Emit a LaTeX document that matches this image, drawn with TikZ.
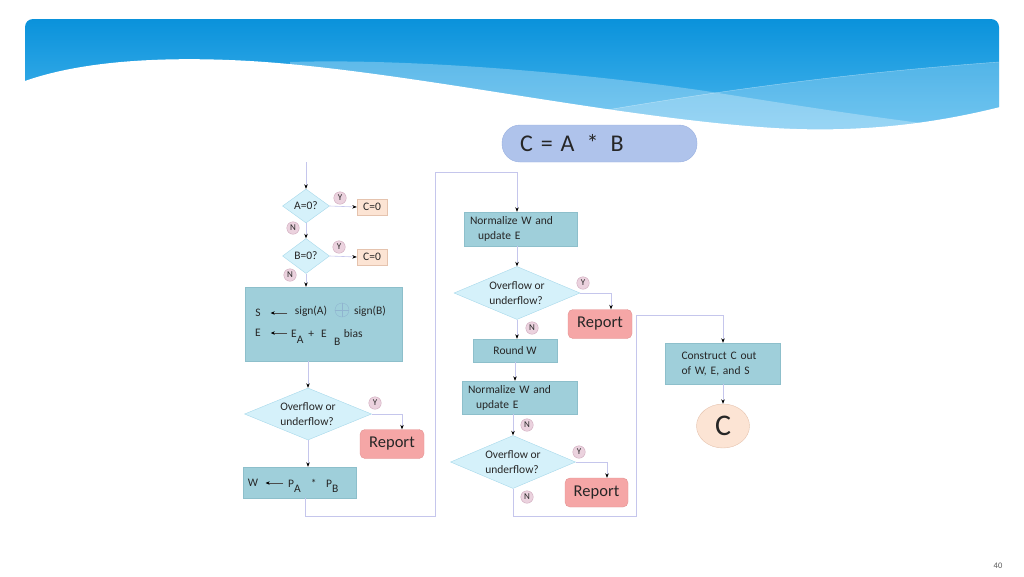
\documentclass[tikz,border=0pt]{standalone}
\usepackage{fontspec}
\setmainfont{Carlito}
\usepackage{xcolor}
\usepackage{tikz}
\usetikzlibrary{shapes.geometric,arrows.meta,positioning,calc}

\definecolor{txt}{HTML}{262626}
\definecolor{boxfill}{HTML}{9FCFDA}
\definecolor{boxline}{HTML}{8DBFCB}
\definecolor{decfill}{HTML}{D5F1FA}
\definecolor{decline}{HTML}{A6D8EA}
\definecolor{zerofill}{HTML}{FCE4D4}
\definecolor{zeroline}{HTML}{E5C3AE}
\definecolor{repfill}{HTML}{F5A6A6}
\definecolor{repline}{HTML}{E39292}
\definecolor{tagfill}{HTML}{EBD2DE}
\definecolor{tagline}{HTML}{CFA9BC}
\definecolor{linec}{HTML}{C5C6EC}
\definecolor{xorline}{HTML}{8FB4CF}
\definecolor{titlefill}{HTML}{AFC3EB}
\definecolor{titleline}{HTML}{98B0E0}
\definecolor{bannertop}{HTML}{0A92DB}
\definecolor{bannerbot}{HTML}{4DB8EE}

\begin{document}
\begin{tikzpicture}[
  x=1pt, y=-1pt,
  every node/.style={font=\fontsize{11.5}{15}\selectfont, text=txt},
  decision/.style={diamond, aspect=2.4, draw=decline, fill=decfill, inner sep=0pt, align=left},
  procbox/.style={rectangle, draw=boxline, fill=boxfill, inner sep=0pt},
  zerobox/.style={rectangle, draw=zeroline, fill=zerofill, minimum width=30pt, minimum height=16pt, inner sep=0pt},
  report/.style={rectangle, rounded corners=5pt, draw=repline, fill=repfill, minimum height=29pt, inner sep=0pt, font=\fontsize{16.5}{18}\selectfont},
  tag/.style={circle, draw=tagline, fill=tagfill, minimum size=12.5pt, inner sep=0pt, font=\fontsize{9}{9}\selectfont},
  arrow/.style={draw=linec, line width=0.6pt, -{Stealth[length=4.5pt, width=3.5pt, black]}},
  assign/.style={draw=black!70, line width=0.5pt, -{Stealth[length=4pt, width=3.5pt, black]}}
]
\useasboundingbox (0,0) rectangle (1024,576);

% banner
\shade[top color=bannertop, bottom color=bannerbot, rounded corners=8pt] (25,19) rectangle (999,136);
\fill[white, opacity=0.28] (290,62) .. controls (420,58) and (600,75) .. (712,92) .. controls (800,106) and (900,122) .. (999,132) -- (999,140) -- (290,140) -- cycle;
\fill[white, opacity=0.22] (560,118) .. controls (680,97) and (820,75) .. (999,62) -- (999,140) -- (560,140) -- cycle;
\draw[white, opacity=0.45, line width=0.4pt] (560,118) .. controls (680,97) and (820,75) .. (999,62);
\fill[white] (20,81) -- (25,81) .. controls (90,58) and (180,57) .. (250,61) .. controls (400,70) and (600,115) .. (760,127) .. controls (850,134) and (930,125) .. (1004,106) -- (1004,145) -- (20,145) -- cycle;

\node[rectangle, rounded corners=18pt, draw=titleline, fill=titlefill, minimum height=37pt, text width=159pt, inner xsep=18pt, inner ysep=0pt, align=left, font=\fontsize{24}{24}\selectfont] (title) at (599.5,143.5) {C = A \,*\, B};

% left column
\coordinate (entry) at (306,162);
\node[decision, minimum width=47pt, minimum height=34pt] (da) at (306,206) {A=0?};
\node[zerobox] (za) at (372,207) {C=0};
\node[decision, minimum width=47pt, minimum height=35pt] (db) at (306,256) {B=0?};
\node[zerobox] (zb) at (372,257) {C=0};
\node[tag] (ya) at (340,198) {Y};
\node[tag] (na) at (293,228) {N};
\node[tag] (yb) at (339,247) {Y};
\node[tag] (nb) at (290,275) {N};

\node[procbox, minimum width=157pt, minimum height=74pt] (ops) at (323.5,324) {};
\node (sv) at (258,313) {S};
\node (sga) at (311,311) {sign(A)};
\node[circle, draw=xorline, minimum size=14pt, inner sep=0pt] (xo) at (342,310) {};
\draw[xorline] (xo.north) -- (xo.south) (xo.west) -- (xo.east);
\node (sgb) at (370,311) {sign(B)};
\node (ev) at (258,333) {E};
\node[anchor=base west, inner sep=0pt] (esum) at (291,337) {E\raisebox{-6pt}{A}\hspace{5pt}+\hspace{7pt}E\hspace{7.4pt}\raisebox{-8pt}{B}\hspace{3.4pt}bias};
\draw[assign] ($(sv.east -| sga.west)+(-4,0)$) -- ($(sv.east)+(6.5,0)$);
\draw[assign] ($(ev.east -| esum.west)+(-4,0)$) -- ($(ev.east)+(6.5,0)$);

\node[decision, minimum width=127pt, minimum height=52pt] (dc) at (308,414) {Overflow or\\underflow?};
\node[tag] (yc) at (375,403) {Y};
\node[report, minimum width=64pt] (ra) at (392,444) {Report};

\node[procbox, minimum width=113pt, minimum height=31pt] (wbox) at (299.5,482.5) {};
\node (wv) at (253,483) {W};
\node[anchor=base west, inner sep=0pt] (prod) at (288,487) {P\raisebox{-5pt}{A}\hspace{10pt}*\hspace{9.7pt}P\raisebox{-5pt}{B}};
\draw[assign] ($(wv.east -| prod.west)+(-5,0)$) -- ($(wv.east)+(4,0)$);

% middle column
\node[procbox, minimum width=113pt, minimum height=34pt, text width=101pt, inner xsep=6pt, align=left] (nma) at (520.5,229) {Normalize W and\\\hspace{8pt}update E};
\node[decision, minimum width=126pt, minimum height=53pt] (dd) at (517,293) {Overflow or\\underflow?};
\node[tag] (yd) at (583,283) {Y};
\node[report, minimum width=64pt] (rb) at (600,324) {Report};
\node[tag] (nd) at (532,328) {N};
\node[procbox, minimum width=84pt, minimum height=23pt] (rw) at (515,350.5) {Round W};
\node[procbox, minimum width=115pt, minimum height=33pt, text width=103pt, inner xsep=6pt, align=left] (nmb) at (519.5,397.5) {Normalize W and\\\hspace{8pt}update E};
\node[tag] (ne) at (527,425) {N};
\node[decision, minimum width=125pt, minimum height=53pt] (de) at (513,462) {Overflow or\\underflow?};
\node[tag] (ye) at (579,452) {Y};
\node[report, minimum width=63pt] (rc) at (596.5,492.5) {Report};
\node[tag] (nf) at (527,497) {N};

% right column
\node[procbox, minimum width=115pt, minimum height=41pt, text width=83pt, inner xsep=16pt, align=left] (cons) at (723,363.5) {Construct C out\\of W, E, and S};
\node[ellipse, draw=zeroline, fill=zerofill, minimum width=53pt, minimum height=44pt, inner sep=0pt, font=\fontsize{30}{30}\selectfont] (cval) at (723,426) {C};

\node[font=\fontsize{8.5}{9}\selectfont, text=black!65] (pnum) at (998,566) {40};

% connectors
\coordinate (loopa) at (435,516);
\coordinate (loopb) at (435,172);
\coordinate (loopc) at (636,516);
\coordinate (loopd) at (636,315);
\draw[arrow] (entry) -- (da.north);
\draw[arrow] (da.east) -- (za.west);
\draw[arrow] (da.south) -- (db.north);
\draw[arrow] (db.east) -- (zb.west);
\draw[arrow] (db.south) -- (db.south |- ops.north);
\draw[arrow] (ops.south -| dc.north) -- (dc.north);
\draw[arrow] (dc.east) -| ([xshift=10pt]ra.north);
\draw[arrow] (dc.south) -- (dc.south |- wbox.north);
\draw[arrow] ([xshift=6pt]wbox.south) |- (loopa) -- (loopb) -| (nma.north -| dd.north);
\draw[arrow] (dd.north |- nma.south) -- (dd.north);
\draw[arrow] (dd.east) -| ([xshift=11pt]rb.north);
\draw[arrow] (dd.south) -- (dd.south |- rw.north);
\draw[arrow] (rw.south) -- (rw.south |- nmb.north);
\draw[arrow] (nmb.south -| de.north) -- (de.north);
\draw[arrow] (de.east) -| ([xshift=10.5pt]rc.north);
\draw[arrow] (de.south) |- (loopc) -- (loopd) -| (cons.north);
\draw[arrow] (cons.south) -- (cval.north);
\end{tikzpicture}
\end{document}
